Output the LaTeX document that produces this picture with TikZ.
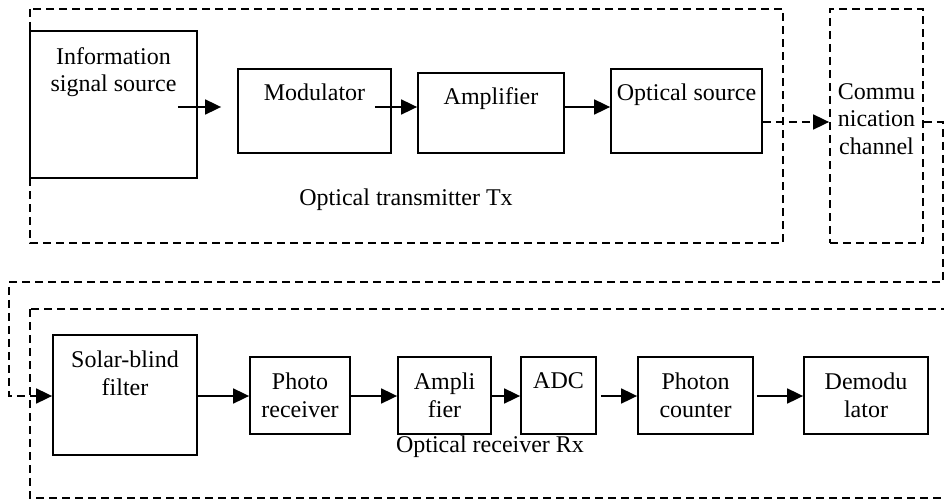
\documentclass[tikz,border=0pt]{standalone}
\usepackage{fontspec}
\setmainfont{Liberation Serif}
\usepackage{tikz}
\usetikzlibrary{positioning, arrows.meta}

\tikzset{
  blk/.style={draw, line width=1.8pt, inner sep=0pt, align=center},
  blktext/.style={anchor=north, inner sep=0pt, align=center},
  dline/.style={line width=1.8pt, dash pattern=on 8pt off 5pt},
  arr/.style={line width=1.8pt, -{Triangle[length=16pt, width=15pt]}},
  darr/.style={dline, -{Triangle[length=16pt, width=15pt]}},
}

\begin{document}
\begin{tikzpicture}[x=1pt, y=-1pt, font=\fontsize{24}{27.6}\selectfont]
    \useasboundingbox (0, 0) rectangle (944, 500);

    % heights of the signal lines
    \coordinate (row1) at (0, 107);
    \coordinate (row2) at (0, 122);
    \coordinate (row3) at (0, 396);
    % corners of the link from the channel down to the receiver
    \coordinate (turnR) at (943, 282);
    \coordinate (turnL) at (9, 396);

    % transmitter side
    \draw[dline] (30, 9) rectangle (783, 243);
    \node[blk, minimum width=167, minimum height=147,
          label={[blktext, yshift=-17pt]north:{Information\\signal source}}] (info) at (113.5, 104.5) {};
    \node[blk, minimum width=153, minimum height=84,
          label={[blktext, yshift=-16pt]north:{Modulator}}] (mod) at (314.5, 111) {};
    \node[blk, minimum width=146, minimum height=80,
          label={[blktext, yshift=-15pt]north:{Amplifier}}] (amp) at (491, 113) {};
    \node[blk, minimum width=151, minimum height=84,
          label={[blktext, yshift=-16pt]north:{Optical source}}] (src) at (686.5, 111) {};
    \node (txname) at (406, 200) {Optical transmitter Tx};

    % the channel in between
    \node[blk, dline, minimum width=93, minimum height=234,
          label={[blktext, yshift=-75pt]north:{Commu\\nication\\channel}}] (chan) at (876.5, 126) {};

    % receiver side
    \draw[dline] (30, 309) rectangle (970, 498);
    \node[blk, minimum width=144, minimum height=120,
          label={[blktext, yshift=-17pt]north:{Solar-blind\\filter}}] (filter) at (125, 395) {};
    \node[blk, minimum width=100, minimum height=77] (photo) at (300, 395.5) {Photo\\receiver};
    \node[blk, minimum width=93, minimum height=77] (ampl) at (444.5, 395.5) {Ampli\\fier};
    \node[blk, minimum width=75, minimum height=77,
          label={[blktext, yshift=-16pt]north:{ADC}}] (adc) at (558.5, 395.5) {};
    \node[blk, minimum width=115, minimum height=77] (count) at (695.5, 395.5) {Photon\\counter};
    \node[blk, minimum width=124, minimum height=77] (demod) at (866, 395.5) {Demodu\\lator};
    \node (rxname) at (490, 447) {Optical receiver Rx};

    % signal flow
    \draw[arr] ([xshift=-20pt]info.east |- row1) -- ([xshift=-16pt]mod.west |- row1);
    \draw[arr] ([xshift=-17pt]mod.east |- row1) -- (amp.west |- row1);
    \draw[arr] (amp.east |- row1) -- (src.west |- row1);
    \draw[darr] (src.east |- row2) -- (chan.west |- row2);
    \draw[darr] (chan.east |- row2) -| (turnR) -| (turnL) -- (filter.west |- row3);
    \foreach \a/\b/\s in {filter/photo/0, photo/ampl/0, ampl/adc/0, adc/count/4, count/demod/3} {
        \draw[arr] ([xshift=\s pt]\a.east |- row3) -- (\b.west |- row3);
    };
\end{tikzpicture}
\end{document}
